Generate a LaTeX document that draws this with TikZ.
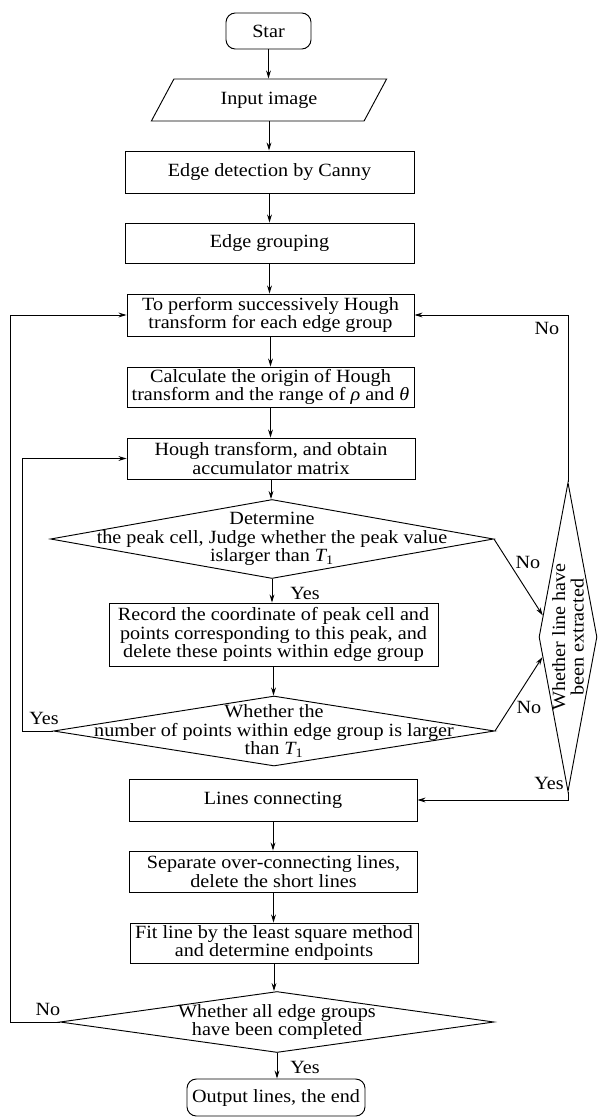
\documentclass[tikz,border=0pt]{standalone}
\usepackage{fontspec}
\setmainfont{Liberation Serif}[FakeStretch=1.08]
\usetikzlibrary{shapes.geometric,arrows.meta,calc}
\newcommand\pxu{0.75pt}
\newcommand\Tone{{\itshape T}\textsubscript{1}}
\begin{document}
\begin{tikzpicture}[x=0.75pt,y=-0.75pt,
  every node/.style={font=\fontsize{14}{14}\selectfont},
  box/.style={draw, rectangle, inner sep=0pt, align=center, line width=0.7pt},
  term/.style={draw, rectangle, rounded corners=7pt, inner sep=0pt, align=center, line width=0.7pt},
  io/.style={draw, trapezium, trapezium left angle=55, trapezium right angle=125, trapezium stretches=true, inner sep=0pt, line width=0.7pt},
  dia/.style={draw, diamond, inner sep=0pt, line width=0.7pt},
  txt/.style={align=center, inner sep=0pt},
  arr/.style={-{Stealth[length=6pt,width=3.6pt]}, line width=0.7pt}
]
\useasboundingbox (0,0) rectangle (606,1120);
\fill[white] (0,0) rectangle (606,1120);

\node[term, minimum width=85*\pxu, minimum height=36*\pxu] (start) at (268.5,31) {Star};
\node[io, minimum width=236*\pxu, minimum height=42*\pxu] (input) at (269,100) {Input image};
\node[box, minimum width=289*\pxu, minimum height=42*\pxu] (canny) at (269.5,172) {Edge detection by Canny};
\node[box, minimum width=289*\pxu, minimum height=40*\pxu] (group) at (269.5,243) {Edge grouping};
\node[box, minimum width=287*\pxu, minimum height=42*\pxu] (perform) at (270.5,315) {To perform successively Hough\\transform for each edge group};
\node[box, minimum width=287*\pxu, minimum height=40*\pxu] (calc) at (270.5,387) {Calculate the origin of Hough\\transform and the range of {\itshape ρ} and {\itshape θ}};
\node[box, minimum width=288*\pxu, minimum height=41*\pxu] (hough) at (271,458.5) {Hough transform, and obtain\\accumulator matrix};
\node[dia, minimum width=443*\pxu, minimum height=79*\pxu] (d1) at (272,539) {};
\node[txt] (d1t) at (d1.center) {Determine\\the peak cell, Judge whether the peak value\\islarger than \Tone};
\node[box, minimum width=329*\pxu, minimum height=63*\pxu] (record) at (273.5,634.5) {Record the coordinate of peak cell and\\points corresponding to this peak, and\\delete these points within edge group};
\node[dia, minimum width=441*\pxu, minimum height=70*\pxu] (d2) at (274,731) {};
\node[txt] (d2t) at (d2.center) {Whether the\\number of points within edge group is larger\\than \Tone};
\node[dia, minimum width=58*\pxu, minimum height=309*\pxu] (d4) at (568,637) {};
\node[txt, rotate=90] (d4t) at (d4.center) {Whether line have\\been extracted};
\node[box, minimum width=288*\pxu, minimum height=42*\pxu] (lines) at (273,800) {Lines connecting};
\node[box, minimum width=288*\pxu, minimum height=41*\pxu] (sep) at (273.5,871.5) {Separate over-connecting lines,\\delete the short lines};
\node[box, minimum width=288*\pxu, minimum height=40*\pxu] (fit) at (274,943) {Fit line by the least square method\\and determine endpoints};
\node[dia, minimum width=434*\pxu, minimum height=61*\pxu] (d3) at (277,1022) {};
\node[txt] (d3t) at (d3.center) {Whether all edge groups\\have been completed};
\node[term, minimum width=178*\pxu, minimum height=37*\pxu] (out) at (276,1097.5) {Output lines, the end};

\foreach \a/\b in {start/input, input/canny, canny/group, group/perform, perform/calc, calc/hough, hough/d1, d1/record, record/d2, lines/sep, sep/fit, fit/d3, d3/out}
  \draw[arr] (\a.south) -- (\a.south |- \b.north);

\draw[arr] (d2.west) -- ++(-31,0) |- (hough.west);
\draw[arr] (d3.west) -- ++(-49,0) |- (perform.west);
\draw[arr] (d1.east) -- ($(d4.west)!0.14!(d4.north)$);
\draw[arr] (d2.east) -- ($(d4.west)!0.13!(d4.south)$);
\draw[arr] (d4.north) |- (perform.east);
\draw[arr] (d4.south) |- (lines.east);

\node (l1) at (305,593) {Yes};
\node (l2) at (547,328) {No};
\node (l3) at (528,562) {No};
\node (l4) at (529,707) {No};
\node (l5) at (549,783) {Yes};
\node (l6) at (44,718) {Yes};
\node (l7) at (48,1009) {No};
\node (l8) at (305,1067) {Yes};
\end{tikzpicture}
\end{document}
